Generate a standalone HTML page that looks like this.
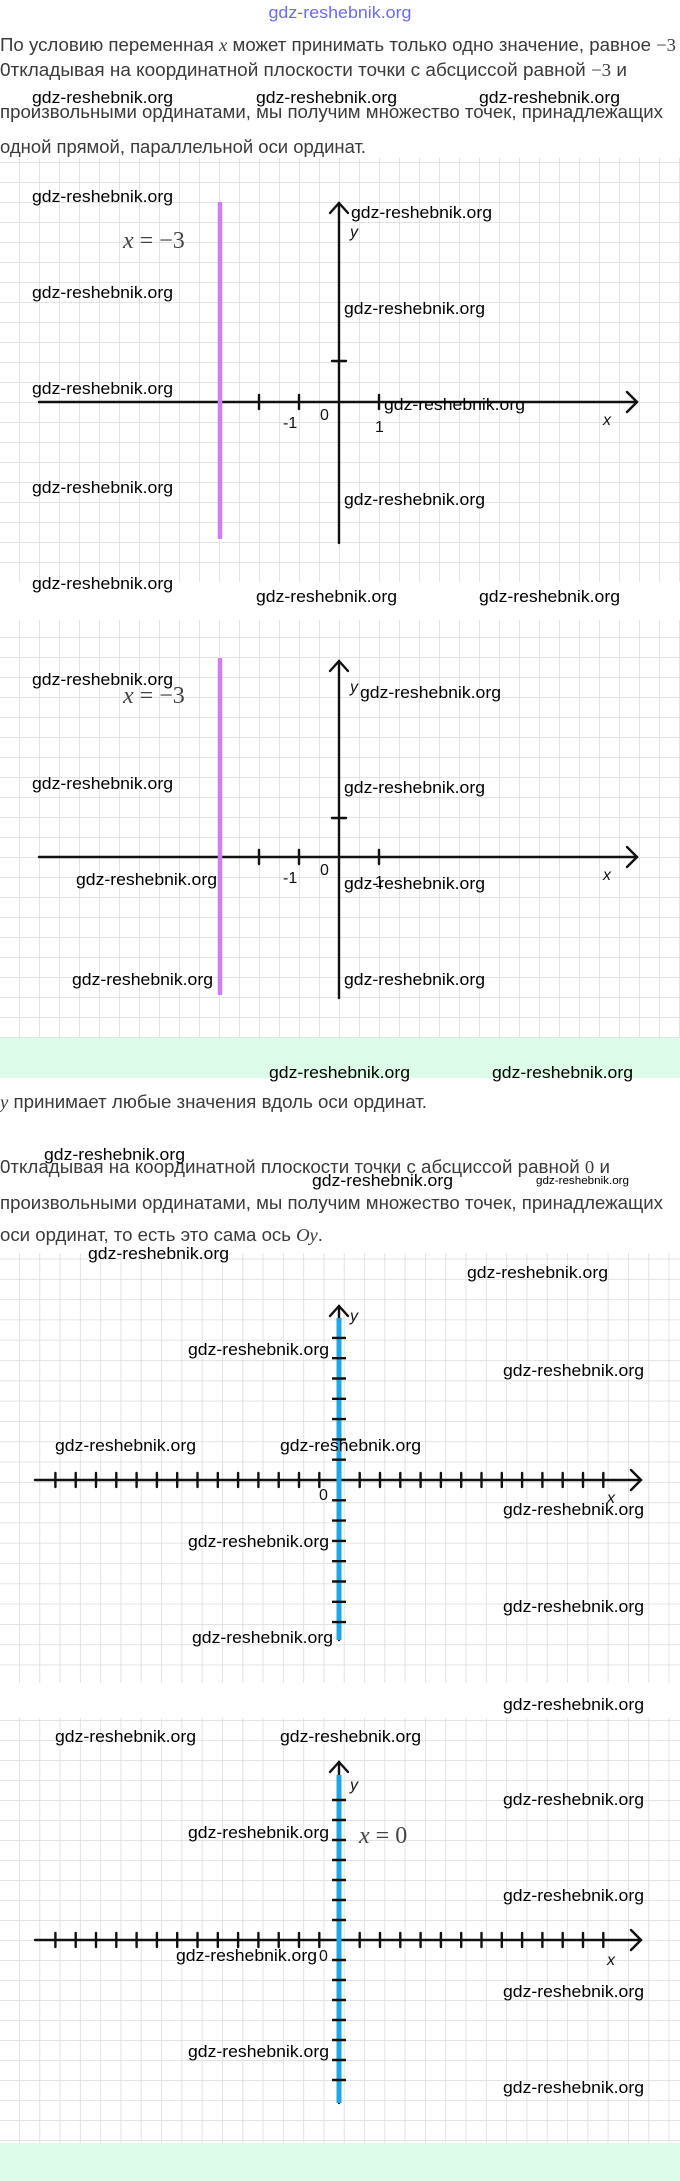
<!DOCTYPE html>
<html><head><meta charset="utf-8"><style>
html,body{margin:0;padding:0;background:#fff;}
svg{display:block;}
.t{font-family:"Liberation Sans",sans-serif;font-size:18px;fill:#3a3a3a;}
.m{font-family:"Liberation Serif",serif;font-style:italic;}
.n{font-family:"Liberation Serif",serif;}
.w{font-family:"Liberation Sans",sans-serif;font-size:17px;fill:#000;}
.lb{font-family:"Liberation Sans",sans-serif;font-size:16px;fill:#111;}
</style></head><body>
<svg width="680" height="2181" viewBox="0 0 680 2181" xmlns="http://www.w3.org/2000/svg">
<defs>
<pattern id="g1" x="19" y="2" width="20" height="20" patternUnits="userSpaceOnUse"><path d="M0 0H20M0 0V20" stroke="#dcdcdc" stroke-width="1.6" fill="none"/></pattern>
<pattern id="g2" x="19" y="17" width="20" height="20" patternUnits="userSpaceOnUse"><path d="M0 0H20M0 0V20" stroke="#dcdcdc" stroke-width="1.6" fill="none"/></pattern>
<pattern id="g3" x="19" y="0" width="20.3" height="20.3" patternUnits="userSpaceOnUse"><path d="M0 0H20.3M0 0V20.3" stroke="#dcdcdc" stroke-width="1.6" fill="none"/></pattern>
<pattern id="g4" x="19" y="0" width="20.3" height="20" patternUnits="userSpaceOnUse"><path d="M0 0H20.3M0 0V20" stroke="#dcdcdc" stroke-width="1.6" fill="none"/></pattern>
</defs>
<rect x="0" y="0" width="680" height="2181" fill="#fff"/>
<rect x="0" y="158" width="680" height="424" fill="url(#g1)"/>
<rect x="0" y="620" width="680" height="418" fill="url(#g2)"/>
<rect x="0" y="1253" width="680" height="430" fill="url(#g3)"/>
<rect x="0" y="1718" width="680" height="425" fill="url(#g4)"/>
<rect x="0" y="1038" width="680" height="40" fill="#dcfce9"/>
<rect x="0" y="2143" width="680" height="38" fill="#dcfce9"/>

<text x="340" y="18" text-anchor="middle" class="w" style="fill:#6a6af2" textLength="143" lengthAdjust="spacingAndGlyphs">gdz-reshebnik.org</text>
<text x="0" y="51" class="t" textLength="676" lengthAdjust="spacingAndGlyphs">По условию переменная <tspan class="m">x</tspan> может принимать только одно значение, равное <tspan class="n">−3</tspan></text>
<text x="0" y="76" class="t" textLength="627" lengthAdjust="spacingAndGlyphs">0ткладывая на координатной плоскости точки с абсциссой равной <tspan class="n">−3</tspan> и</text>
<text x="0" y="118" class="t" textLength="663" lengthAdjust="spacingAndGlyphs">произвольными ординатами, мы получим множество точек, принадлежащих</text>
<text x="0" y="153" class="t" textLength="366" lengthAdjust="spacingAndGlyphs">одной прямой, параллельной оси ординат.</text>

<g stroke="#111" stroke-width="2.4" fill="none" stroke-linecap="round">
<line x1="39" y1="402" x2="637" y2="402"/>
<polyline points="627,392 637,402 627,412"/>
<line x1="339" y1="203" x2="339" y2="543"/>
<polyline points="330,213 339,203 348,213"/>
<line x1="259" y1="395" x2="259" y2="409"/><line x1="299" y1="395" x2="299" y2="409"/><line x1="379" y1="395" x2="379" y2="409"/><line x1="220" y1="395" x2="220" y2="409"/>
<line x1="332" y1="361" x2="346" y2="361"/>
</g>
<line x1="220" y1="202" x2="220" y2="539" stroke="#cc7ff2" stroke-width="4.5"/>
<text x="123" y="248" class="n" font-size="24" fill="#444"><tspan class="m">x</tspan> = −3</text>
<text x="350" y="237" class="lb" font-style="italic" font-size="18">y</text>
<text x="283" y="428" class="lb">-1</text>
<text x="320" y="420" class="lb">0</text>
<text x="375" y="432" class="lb">1</text>
<text x="603" y="425" class="lb" font-style="italic" font-size="17">x</text>

<g stroke="#111" stroke-width="2.4" fill="none" stroke-linecap="round">
<line x1="39" y1="857" x2="637" y2="857"/>
<polyline points="627,847 637,857 627,867"/>
<line x1="339" y1="661" x2="339" y2="998"/>
<polyline points="330,671 339,661 348,671"/>
<line x1="259" y1="850" x2="259" y2="864"/><line x1="299" y1="850" x2="299" y2="864"/><line x1="379" y1="850" x2="379" y2="864"/><line x1="220" y1="850" x2="220" y2="864"/>
<line x1="332" y1="818" x2="346" y2="818"/>
</g>
<line x1="220" y1="658" x2="220" y2="995" stroke="#cc7ff2" stroke-width="4.5"/>
<text x="123" y="703" class="n" font-size="24" fill="#444"><tspan class="m">x</tspan> = −3</text>
<text x="350" y="692" class="lb" font-style="italic" font-size="18">y</text>
<text x="283" y="883" class="lb">-1</text>
<text x="320" y="875" class="lb">0</text>
<text x="375" y="887" class="lb">1</text>
<text x="603" y="880" class="lb" font-style="italic" font-size="17">x</text>

<text x="0" y="1108" class="t" textLength="427" lengthAdjust="spacingAndGlyphs"><tspan class="m">y</tspan> принимает любые значения вдоль оси ординат.</text>
<text x="0" y="1173" class="t" textLength="610" lengthAdjust="spacingAndGlyphs">0ткладывая на координатной плоскости точки с абсциссой равной <tspan class="n">0</tspan> и</text>
<text x="0" y="1209" class="t" textLength="663" lengthAdjust="spacingAndGlyphs">произвольными ординатами, мы получим множество точек, принадлежащих</text>
<text x="0" y="1241" class="t" textLength="323" lengthAdjust="spacingAndGlyphs">оси ординат, то есть это сама ось <tspan class="m">Oy</tspan>.</text>

<g stroke="#111" stroke-width="2.4" fill="none" stroke-linecap="round">
<line x1="35" y1="1480" x2="641" y2="1480"/>
<polyline points="631,1470 641,1480 631,1490"/>
<line x1="339" y1="1306" x2="339" y2="1640"/>
<polyline points="330,1316 339,1306 348,1316"/>
<path d="M55.4 1473v14M75.7 1473v14M96 1473v14M116.3 1473v14M136.6 1473v14M156.9 1473v14M177.2 1473v14M197.5 1473v14M217.8 1473v14M238.1 1473v14M258.4 1473v14M278.7 1473v14M299 1473v14M319.3 1473v14M359.7 1473v14M380 1473v14M400.3 1473v14M420.6 1473v14M440.9 1473v14M461.2 1473v14M481.5 1473v14M501.8 1473v14M522.1 1473v14M542.4 1473v14M562.7 1473v14M583 1473v14M603.3 1473v14"/>
</g>
<line x1="339" y1="1318" x2="339" y2="1640" stroke="#1ea7e4" stroke-width="5"/>
<path d="M332 1337.9h14M332 1358.2h14M332 1378.5h14M332 1398.8h14M332 1419.1h14M332 1439.4h14M332 1459.7h14M332 1500.3h14M332 1520.6h14M332 1540.9h14M332 1561.2h14M332 1581.5h14M332 1601.8h14M332 1622.1h14" stroke="#111" stroke-width="2.4"/>
<text x="350" y="1321" class="lb" font-style="italic" font-size="18">y</text>
<text x="319" y="1500" class="lb">0</text>
<text x="607" y="1503" class="lb" font-style="italic" font-size="17">x</text>

<g stroke="#111" stroke-width="2.4" fill="none" stroke-linecap="round">
<line x1="35" y1="1940" x2="641" y2="1940"/>
<polyline points="631,1930 641,1940 631,1950"/>
<line x1="339" y1="1762" x2="339" y2="2103"/>
<polyline points="330,1772 339,1762 348,1772"/>
<path d="M55.4 1933v14M75.7 1933v14M96 1933v14M116.3 1933v14M136.6 1933v14M156.9 1933v14M177.2 1933v14M197.5 1933v14M217.8 1933v14M238.1 1933v14M258.4 1933v14M278.7 1933v14M299 1933v14M319.3 1933v14M359.7 1933v14M380 1933v14M400.3 1933v14M420.6 1933v14M440.9 1933v14M461.2 1933v14M481.5 1933v14M501.8 1933v14M522.1 1933v14M542.4 1933v14M562.7 1933v14M583 1933v14M603.3 1933v14"/>
</g>
<line x1="339" y1="1775" x2="339" y2="2103" stroke="#1ea7e4" stroke-width="5"/>
<path d="M332 1800h14M332 1820h14M332 1840h14M332 1860h14M332 1880h14M332 1900h14M332 1920h14M332 1960h14M332 1980h14M332 2000h14M332 2020h14M332 2040h14M332 2060h14M332 2080h14" stroke="#111" stroke-width="2.4"/>
<text x="350" y="1790" class="lb" font-style="italic" font-size="18">y</text>
<text x="319" y="1961" class="lb">0</text>
<text x="607" y="1965" class="lb" font-style="italic" font-size="17">x</text>
<text x="359" y="1843" class="n" font-size="24" fill="#444"><tspan class="m">x</tspan> = 0</text>

<g class="w">
<text x="32" y="103" textLength="141" lengthAdjust="spacingAndGlyphs">gdz-reshebnik.org</text>
<text x="256" y="103" textLength="141" lengthAdjust="spacingAndGlyphs">gdz-reshebnik.org</text>
<text x="479" y="103" textLength="141" lengthAdjust="spacingAndGlyphs">gdz-reshebnik.org</text>
<text x="32" y="202" textLength="141" lengthAdjust="spacingAndGlyphs">gdz-reshebnik.org</text>
<text x="351" y="218" textLength="141" lengthAdjust="spacingAndGlyphs">gdz-reshebnik.org</text>
<text x="32" y="298" textLength="141" lengthAdjust="spacingAndGlyphs">gdz-reshebnik.org</text>
<text x="344" y="314" textLength="141" lengthAdjust="spacingAndGlyphs">gdz-reshebnik.org</text>
<text x="32" y="394" textLength="141" lengthAdjust="spacingAndGlyphs">gdz-reshebnik.org</text>
<text x="384" y="410" textLength="141" lengthAdjust="spacingAndGlyphs">gdz-reshebnik.org</text>
<text x="32" y="493" textLength="141" lengthAdjust="spacingAndGlyphs">gdz-reshebnik.org</text>
<text x="344" y="505" textLength="141" lengthAdjust="spacingAndGlyphs">gdz-reshebnik.org</text>
<text x="32" y="589" textLength="141" lengthAdjust="spacingAndGlyphs">gdz-reshebnik.org</text>
<text x="256" y="602" textLength="141" lengthAdjust="spacingAndGlyphs">gdz-reshebnik.org</text>
<text x="479" y="602" textLength="141" lengthAdjust="spacingAndGlyphs">gdz-reshebnik.org</text>
<text x="32" y="685" textLength="141" lengthAdjust="spacingAndGlyphs">gdz-reshebnik.org</text>
<text x="360" y="698" textLength="141" lengthAdjust="spacingAndGlyphs">gdz-reshebnik.org</text>
<text x="32" y="789" textLength="141" lengthAdjust="spacingAndGlyphs">gdz-reshebnik.org</text>
<text x="344" y="793" textLength="141" lengthAdjust="spacingAndGlyphs">gdz-reshebnik.org</text>
<text x="76" y="885" textLength="141" lengthAdjust="spacingAndGlyphs">gdz-reshebnik.org</text>
<text x="344" y="889" textLength="141" lengthAdjust="spacingAndGlyphs">gdz-reshebnik.org</text>
<text x="72" y="985" textLength="141" lengthAdjust="spacingAndGlyphs">gdz-reshebnik.org</text>
<text x="344" y="985" textLength="141" lengthAdjust="spacingAndGlyphs">gdz-reshebnik.org</text>
<text x="269" y="1078" textLength="141" lengthAdjust="spacingAndGlyphs">gdz-reshebnik.org</text>
<text x="492" y="1078" textLength="141" lengthAdjust="spacingAndGlyphs">gdz-reshebnik.org</text>
<text x="44" y="1160" textLength="141" lengthAdjust="spacingAndGlyphs">gdz-reshebnik.org</text>
<text x="312" y="1186" textLength="141" lengthAdjust="spacingAndGlyphs">gdz-reshebnik.org</text>
<text x="536" y="1184" font-size="11" textLength="93" lengthAdjust="spacingAndGlyphs">gdz-reshebnik.org</text>
<text x="88" y="1259" textLength="141" lengthAdjust="spacingAndGlyphs">gdz-reshebnik.org</text>
<text x="467" y="1278" textLength="141" lengthAdjust="spacingAndGlyphs">gdz-reshebnik.org</text>
<text x="188" y="1355" textLength="141" lengthAdjust="spacingAndGlyphs">gdz-reshebnik.org</text>
<text x="503" y="1376" textLength="141" lengthAdjust="spacingAndGlyphs">gdz-reshebnik.org</text>
<text x="55" y="1451" textLength="141" lengthAdjust="spacingAndGlyphs">gdz-reshebnik.org</text>
<text x="280" y="1451" textLength="141" lengthAdjust="spacingAndGlyphs">gdz-reshebnik.org</text>
<text x="503" y="1515" textLength="141" lengthAdjust="spacingAndGlyphs">gdz-reshebnik.org</text>
<text x="188" y="1547" textLength="141" lengthAdjust="spacingAndGlyphs">gdz-reshebnik.org</text>
<text x="503" y="1612" textLength="141" lengthAdjust="spacingAndGlyphs">gdz-reshebnik.org</text>
<text x="192" y="1643" textLength="141" lengthAdjust="spacingAndGlyphs">gdz-reshebnik.org</text>
<text x="503" y="1710" textLength="141" lengthAdjust="spacingAndGlyphs">gdz-reshebnik.org</text>
<text x="55" y="1742" textLength="141" lengthAdjust="spacingAndGlyphs">gdz-reshebnik.org</text>
<text x="280" y="1742" textLength="141" lengthAdjust="spacingAndGlyphs">gdz-reshebnik.org</text>
<text x="503" y="1805" textLength="141" lengthAdjust="spacingAndGlyphs">gdz-reshebnik.org</text>
<text x="188" y="1838" textLength="141" lengthAdjust="spacingAndGlyphs">gdz-reshebnik.org</text>
<text x="503" y="1901" textLength="141" lengthAdjust="spacingAndGlyphs">gdz-reshebnik.org</text>
<text x="176" y="1961" textLength="141" lengthAdjust="spacingAndGlyphs">gdz-reshebnik.org</text>
<text x="503" y="1997" textLength="141" lengthAdjust="spacingAndGlyphs">gdz-reshebnik.org</text>
<text x="188" y="2057" textLength="141" lengthAdjust="spacingAndGlyphs">gdz-reshebnik.org</text>
<text x="503" y="2093" textLength="141" lengthAdjust="spacingAndGlyphs">gdz-reshebnik.org</text>
</g>
</svg>
</body></html>
